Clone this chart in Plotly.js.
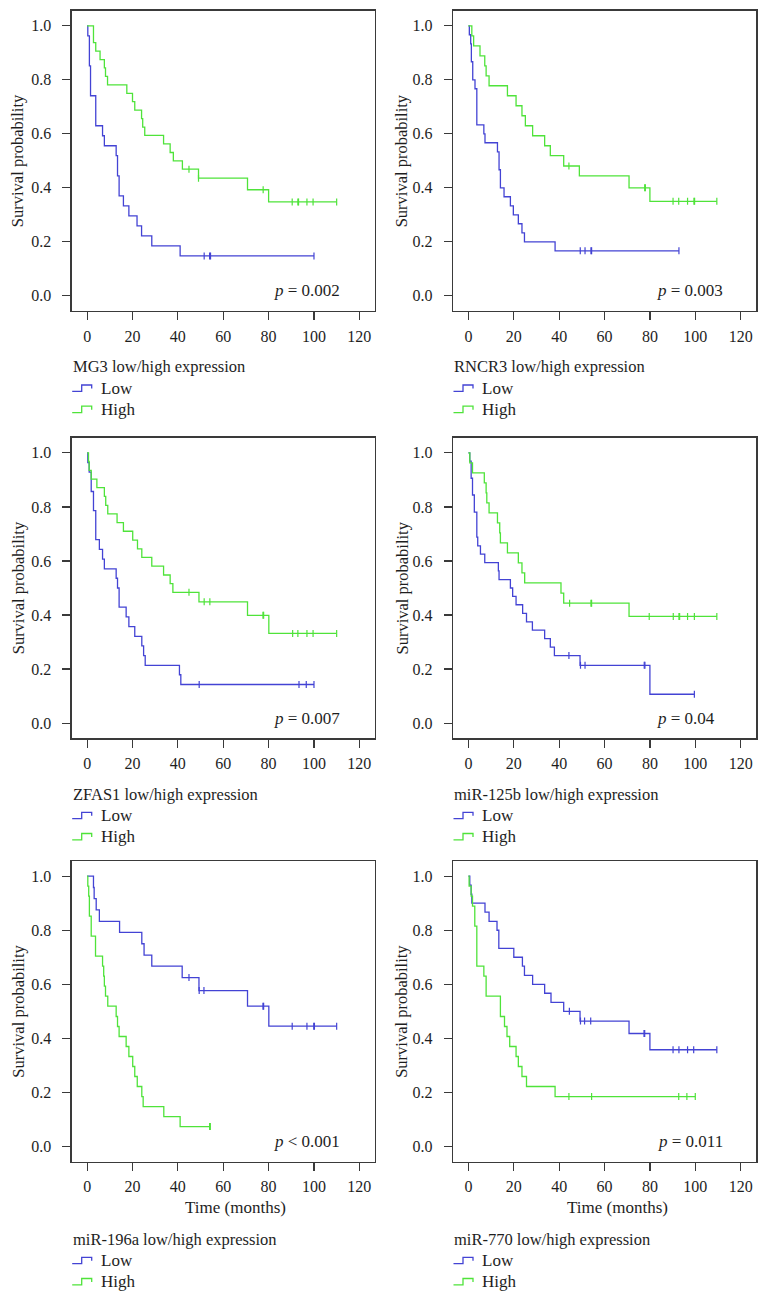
<!DOCTYPE html>
<html>
<head>
<meta charset="utf-8">
<script src="https://cdn.plot.ly/plotly-3.0.1.min.js"></script>
<style>html,body{margin:0;padding:0;background:#fff;}#chart{width:767px;height:1301px;}</style>
</head>
<body>
<div id="chart"></div>
<script>
// ---------------- DATA ----------------
const genes = ["MG3", "RNCR3", "ZFAS1", "miR-125b", "miR-196a", "miR-770"];
const pValues = ["= 0.002", "= 0.003", "= 0.007", "= 0.04", "< 0.001", "= 0.011"];
const groupNames = ["Low", "High"];
const xTicks = [0, 20, 40, 60, 80, 100, 120];
const yTicks = [0.0, 0.2, 0.4, 0.6, 0.8, 1.0];

// MG3
const mg3LowT  = [0.3, 1.0, 1.5, 3.8, 6.8, 7.6, 12.8, 13.4, 14.1, 16.0, 18.4, 22.0, 24.0, 28.5, 41.0, 100];
const mg3LowS  = [0.963, 0.852, 0.741, 0.630, 0.593, 0.556, 0.519, 0.444, 0.370, 0.333, 0.296, 0.259, 0.222, 0.185, 0.148, 0.148];
const mg3LowC  = [51.6, 54.0, 54.4, 100];
const mg3HighT = [2.8, 3.8, 5.7, 7.6, 8.1, 9.0, 17.5, 20.0, 21.0, 24.0, 24.5, 25.4, 33.7, 36.6, 38.0, 42.0, 49.1, 70.7, 80.0, 110];
const mg3HighS = [0.938, 0.906, 0.875, 0.844, 0.813, 0.781, 0.750, 0.719, 0.688, 0.656, 0.625, 0.594, 0.563, 0.531, 0.500, 0.469, 0.436, 0.393, 0.348, 0.348];
const mg3HighC = [44.9, 49.1, 77.6, 90.4, 92.9, 93.2, 96.9, 99.6, 110];

// RNCR3
const rncr3LowT  = [0.4, 1.0, 1.3, 1.9, 2.9, 3.7, 6.8, 7.3, 12.8, 13.5, 14.1, 15.7, 18.5, 19.8, 22.0, 23.6, 24.7, 38.2, 92.8];
const rncr3LowS  = [0.967, 0.933, 0.867, 0.800, 0.767, 0.633, 0.600, 0.567, 0.533, 0.467, 0.400, 0.367, 0.333, 0.300, 0.267, 0.233, 0.200, 0.167, 0.167];
const rncr3LowC  = [49.3, 51.4, 54.0, 54.3, 92.8];
const rncr3HighT = [1.5, 2.3, 5.1, 7.2, 7.8, 9.1, 17.2, 21.0, 23.6, 25.1, 28.3, 33.6, 36.1, 42.0, 48.9, 70.8, 80.0, 109.5];
const rncr3HighS = [0.963, 0.926, 0.889, 0.852, 0.815, 0.778, 0.741, 0.704, 0.667, 0.630, 0.593, 0.556, 0.519, 0.481, 0.444, 0.400, 0.350, 0.350];
const rncr3HighC = [44.3, 77.7, 78.0, 90.2, 92.7, 96.6, 99.4, 99.7, 109.5];

// ZFAS1
const zfas1LowT  = [0.3, 0.9, 1.8, 2.8, 3.8, 5.4, 6.8, 7.6, 12.8, 13.4, 14.1, 17.2, 18.4, 21.0, 24.1, 24.9, 25.6, 40.7, 41.3, 100];
const zfas1LowS  = [0.964, 0.929, 0.857, 0.786, 0.679, 0.643, 0.607, 0.571, 0.536, 0.500, 0.429, 0.393, 0.357, 0.321, 0.286, 0.250, 0.214, 0.179, 0.143, 0.143];
const zfas1LowC  = [49.4, 93.4, 96.6, 100];
const zfas1HighT = [0.6, 0.9, 1.8, 4.3, 7.6, 8.2, 9.1, 13.2, 16.0, 20.1, 22.2, 24.1, 28.5, 33.7, 36.6, 37.8, 49.3, 70.7, 80.1, 110];
const zfas1HighS = [0.968, 0.935, 0.903, 0.871, 0.839, 0.806, 0.774, 0.742, 0.710, 0.677, 0.645, 0.613, 0.581, 0.548, 0.516, 0.484, 0.449, 0.399, 0.332, 0.332];
const zfas1HighC = [44.9, 51.6, 54.1, 77.5, 77.8, 90.6, 92.9, 96.9, 99.6, 110];

// miR-125b
const mir125bLowT  = [0.6, 1.2, 1.8, 2.6, 3.7, 4.1, 5.3, 7.2, 13.2, 13.5, 18.5, 19.5, 21.0, 23.9, 25.6, 28.2, 33.6, 36.1, 37.9, 49.2, 80.0, 99.6];
const mir125bLowS  = [0.969, 0.906, 0.844, 0.781, 0.688, 0.656, 0.625, 0.594, 0.563, 0.531, 0.500, 0.469, 0.438, 0.406, 0.375, 0.344, 0.313, 0.281, 0.250, 0.214, 0.107, 0.107];
const mir125bLowC  = [44.3, 49.4, 51.4, 77.5, 77.8, 99.6];
const mir125bHighT = [0.6, 1.8, 7.0, 7.8, 8.1, 9.1, 12.8, 13.8, 14.1, 17.2, 22.0, 23.6, 24.8, 40.8, 42.0, 70.8, 109.5];
const mir125bHighS = [0.963, 0.926, 0.889, 0.852, 0.815, 0.778, 0.741, 0.704, 0.667, 0.630, 0.593, 0.556, 0.519, 0.481, 0.444, 0.395, 0.395];
const mir125bHighC = [44.6, 54.0, 54.3, 79.7, 90.3, 92.8, 93.1, 96.6, 99.6, 109.5];

// miR-196a
const mir196aLowT  = [2.8, 3.1, 4.0, 5.4, 14.3, 24.1, 25.1, 28.5, 41.9, 49.3, 70.7, 80.1, 110];
const mir196aLowS  = [0.958, 0.917, 0.875, 0.833, 0.792, 0.750, 0.708, 0.667, 0.625, 0.577, 0.519, 0.445, 0.445];
const mir196aLowC  = [44.9, 49.4, 51.5, 77.5, 77.8, 90.4, 96.9, 99.9, 100.2, 110];
const mir196aHighT = [0.3, 0.7, 1.0, 1.8, 3.7, 6.8, 7.3, 7.6, 8.1, 9.1, 12.8, 13.4, 14.1, 17.2, 18.4, 20.1, 21.0, 22.1, 24.1, 24.7, 33.8, 41.0, 54.3];
const mir196aHighS = [0.963, 0.926, 0.852, 0.778, 0.704, 0.667, 0.630, 0.593, 0.556, 0.519, 0.481, 0.444, 0.407, 0.370, 0.333, 0.296, 0.259, 0.222, 0.185, 0.148, 0.111, 0.074, 0.074];
const mir196aHighC = [54.0, 54.3];

// miR-770
const mir770LowT  = [0.6, 1.2, 1.5, 7.3, 9.1, 12.6, 13.4, 20.0, 23.8, 24.7, 28.3, 33.6, 36.4, 42.0, 49.2, 70.8, 80.0, 109.5];
const mir770LowS  = [0.967, 0.933, 0.900, 0.867, 0.833, 0.800, 0.733, 0.700, 0.667, 0.633, 0.600, 0.567, 0.533, 0.500, 0.464, 0.418, 0.358, 0.358];
const mir770LowC  = [44.5, 49.4, 51.2, 53.9, 77.4, 77.7, 90.2, 92.8, 96.6, 99.3, 109.5];
const mir770HighT = [0.3, 1.2, 1.8, 2.8, 3.7, 6.8, 7.8, 14.1, 15.9, 17.0, 18.2, 21.0, 22.0, 23.6, 25.6, 38.2, 100];
const mir770HighS = [0.963, 0.926, 0.889, 0.815, 0.667, 0.630, 0.556, 0.481, 0.444, 0.407, 0.370, 0.333, 0.296, 0.259, 0.222, 0.185, 0.185];
const mir770HighC = [44.3, 54.3, 92.7, 96.3, 100];

// ---------------- STYLE / LAYOUT ----------------
const W = 767, H = 1301;
const BLUE = "#4343d4";
const GREEN = "#4fe33a";
const TXT = "#1e1e1e";
const AXC = "#3a3a3a";
const FONT = "Liberation Serif, Times New Roman, serif";

const series = [
  [[mg3LowT, mg3LowS, mg3LowC], [mg3HighT, mg3HighS, mg3HighC]],
  [[rncr3LowT, rncr3LowS, rncr3LowC], [rncr3HighT, rncr3HighS, rncr3HighC]],
  [[zfas1LowT, zfas1LowS, zfas1LowC], [zfas1HighT, zfas1HighS, zfas1HighC]],
  [[mir125bLowT, mir125bLowS, mir125bLowC], [mir125bHighT, mir125bHighS, mir125bHighC]],
  [[mir196aLowT, mir196aLowS, mir196aLowC], [mir196aHighT, mir196aHighS, mir196aHighC]],
  [[mir770LowT, mir770LowS, mir770LowC], [mir770HighT, mir770HighS, mir770HighC]]
];
const colors = [BLUE, GREEN];

// pixel boxes of the six plot areas
const cols = [[71.7, 375.0], [453.0, 756.3]];
const rows = [[10.7, 311.0], [437.7, 738.3], [861.0, 1161.7]];

function fx(p) { return p / W; }
function fy(p) { return 1 - p / H; }
function stepAt(T, S, c) {
  let v = 1;
  for (let i = 0; i < T.length; i++) { if (T[i] <= c + 1e-9) v = S[i]; }
  return v;
}

const traces = [];
const layout = {
  width: W, height: H,
  margin: {l: 0, r: 0, t: 0, b: 0},
  paper_bgcolor: "#ffffff", plot_bgcolor: "#ffffff",
  showlegend: false,
  font: {family: FONT, color: TXT, size: 16},
  annotations: [], shapes: []
};

for (let k = 0; k < 6; k++) {
  const r = Math.floor(k / 2), c = k % 2;
  const sfx = k === 0 ? "" : String(k + 1);
  const xa = "x" + sfx, ya = "y" + sfx;
  const [xl, xr] = cols[c];
  const [yt, yb] = rows[r];

  layout["xaxis" + sfx] = {
    domain: [fx(xl), fx(xr)], anchor: ya, range: [-6.8, 126.9],
    tickvals: xTicks, ticktext: xTicks.map(String),
    ticks: "outside", ticklen: 8, tickwidth: 1.2, tickcolor: AXC,
    showline: true, mirror: true, linecolor: AXC, linewidth: 1.3,
    showgrid: false, zeroline: false, ticklabelstandoff: 2,
    tickfont: {family: FONT, size: 16, color: TXT}, fixedrange: true
  };
  layout["yaxis" + sfx] = {
    domain: [fy(yb), fy(yt)], anchor: xa, range: [-0.056, 1.056],
    tickvals: yTicks, ticktext: yTicks.map(v => v.toFixed(1)),
    ticks: "outside", ticklen: 8, tickwidth: 1.2, tickcolor: AXC,
    showline: true, mirror: true, linecolor: AXC, linewidth: 1.3,
    showgrid: false, zeroline: false, ticklabelstandoff: 8,
    tickfont: {family: FONT, size: 16, color: TXT}, fixedrange: true
  };

  for (let g = 0; g < 2; g++) {
    const [T, S, C] = series[k][g];
    traces.push({
      type: "scatter", mode: "lines", xaxis: xa, yaxis: ya,
      x: [0].concat(T), y: [1].concat(S),
      line: {shape: "hv", color: colors[g], width: 1.3},
      name: groupNames[g], hoverinfo: "skip"
    });
    traces.push({
      type: "scatter", mode: "markers", xaxis: xa, yaxis: ya,
      x: C, y: C.map(cv => stepAt(T, S, cv)),
      marker: {symbol: "line-ns", size: 5, line: {color: colors[g], width: 1.2}},
      hoverinfo: "skip"
    });
  }

  // y axis title
  layout.annotations.push({
    text: "Survival probability", textangle: -90, xref: "paper", yref: "paper",
    x: fx(c === 0 ? 18.3 : 401.5), y: fy((yt + yb) / 2), xanchor: "center", yanchor: "middle",
    showarrow: false, font: {family: FONT, size: 16.5, color: TXT}
  });
  // p value
  layout.annotations.push({
    text: "<i>p</i> " + pValues[k], xref: "paper", yref: "paper",
    x: fx(c === 0 ? 342 : (k === 3 ? 716.7 : 724.5)), y: fy(yb - 20), xanchor: "right", yanchor: "middle",
    showarrow: false, font: {family: FONT, size: 17, color: TXT}
  });

  // legend block
  let legTop = yb + 55.7;
  if (r === 2) {
    layout.annotations.push({
      text: "Time (months)", xref: "paper", yref: "paper",
      x: fx(xl + 164), y: fy(yb + 46), xanchor: "center", yanchor: "middle",
      showarrow: false, font: {family: FONT, size: 17, color: TXT}
    });
    legTop = yb + 77.3;
  }
  layout.annotations.push({
    text: genes[k] + " low/high expression", xref: "paper", yref: "paper",
    x: fx(xl - 1), y: fy(legTop), xanchor: "left", yanchor: "middle",
    showarrow: false, font: {family: FONT, size: 16.5, color: TXT}
  });
  for (let g = 0; g < 2; g++) {
    const cy = legTop + 21.5 + g * 21.2;
    layout.annotations.push({
      text: groupNames[g], xref: "paper", yref: "paper",
      x: fx(xl + 27.5), y: fy(cy), xanchor: "left", yanchor: "middle",
      showarrow: false, font: {family: FONT, size: 17, color: TXT}
    });
    const x0 = xl + 0.5, yb2 = cy + 3.2, yt2 = cy - 3.2;
    const path = "M " + fx(x0) + "," + fy(yb2) + " L " + fx(x0 + 9.5) + "," + fy(yb2) +
      " L " + fx(x0 + 9.5) + "," + fy(yt2) + " L " + fx(x0 + 19.5) + "," + fy(yt2) +
      " L " + fx(x0 + 19.5) + "," + fy(yt2 + 3.5);
    layout.shapes.push({type: "path", xref: "paper", yref: "paper", path: path,
      line: {color: colors[g], width: 1.3}});
  }
}

Plotly.newPlot("chart", traces, layout, {staticPlot: true, displayModeBar: false});
</script>
</body>
</html>
